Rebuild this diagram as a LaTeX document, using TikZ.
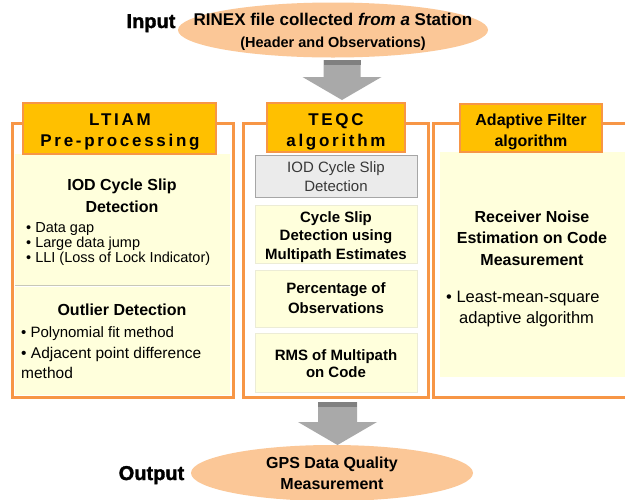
\documentclass[tikz,border=0pt]{standalone}
\usepackage{fontspec}
\setmainfont{Liberation Sans}
\newfontfamily\spacedfont[LetterSpace=16]{Liberation Sans}
\newfontfamily\heavyfont[FakeBold=1.6]{Liberation Sans Bold}
\usetikzlibrary{shapes.geometric,fit,calc}
\definecolor{orgline}{HTML}{F79646}
\definecolor{gold}{HTML}{FFC000}
\definecolor{paleyel}{HTML}{FFFFDC}
\definecolor{peach}{HTML}{FBC797}
\definecolor{graybox}{HTML}{EBEBEB}
\definecolor{grayedge}{HTML}{A6A6A6}
\definecolor{arrowgray}{HTML}{A9A9A9}
\definecolor{arrowdark}{HTML}{808080}
\definecolor{sepgray}{HTML}{C8C8B8}
\definecolor{subedge}{HTML}{ECECD6}
\definecolor{txtgray}{HTML}{383838}
\newcommand\fsz[2]{\fontsize{#1}{#2}\selectfont}
\newcommand\garrow[4]{%
  \fill[arrowgray] let \p1=(#1), \p2=(#2) in
    (\x1-#3,\y1) -- (\x1+#3,\y1) -- (\x1+#3,\y2+23pt) -- (\x1+#4,\y2+23pt)
    -- (\x1,\y2) -- (\x1-#4,\y2+23pt) -- (\x1-#3,\y2+23pt) -- cycle;
  \fill[arrowdark] let \p1=(#1) in (\x1-#3,\y1) rectangle (\x1+#3,\y1-5pt);
}
\begin{document}
\begin{tikzpicture}[x=1pt,y=-1pt,
  bx/.style={inner sep=0pt, outer sep=0pt},
  panel/.style={draw=orgline, line width=3pt, fill=white},
  titlebox/.style={draw=orgline, line width=1.5pt, fill=gold},
  subbx/.style={fill=paleyel, draw=subedge, line width=0.8pt},
  graybx/.style={fill=graybox, draw=grayedge, line width=0.8pt},
  lbl/.style={anchor=base, inner sep=0pt, text=black},
  lblw/.style={anchor=base west, inner sep=0pt, text=black},
  hd/.style={font=\bfseries\fsz{16}{19}},
  bd/.style={font=\bfseries\fsz{15}{18}},
  rg/.style={font=\fsz{15}{18}},
  sp/.style={font=\spacedfont\bfseries\fsz{17}{20}},
]
\useasboundingbox (0,0) rectangle (625,499);
\clip (0,0) rectangle (625,499);
\fill[white] (0,0) rectangle (625,499);

% panels
\node[bx, panel, fit={(12,123) (233,397)}] (lp) {};
\node[bx, panel, fit={(243,123) (428,397)}] (mp) {};
\node[bx, panel, fit={(433,123) (660,397)}] (rp) {};

% left panel sections
\node[bx, fill=paleyel, fit={(15,154) (230,285)}] (ls1) {};
\node[bx, fill=paleyel, fit={(15,287) (230,395)}] (ls2) {};
\draw[sepgray, line width=1pt] (ls1.south west) -- (ls1.south east);

% middle sub boxes
\node[bx, graybx, fit={(255,155) (417,197)}] (m1) {};
\node[bx, subbx, fit={(255,205) (417,263)}] (m2) {};
\node[bx, subbx, fit={(255,270) (417,327)}] (m3) {};
\node[bx, subbx, fit={(255,333) (417,392)}] (m4) {};

% right section
\node[bx, fill=paleyel, fit={(440,152) (660,377)}] (rs) {};

% title boxes
\node[bx, titlebox, fit={(23,103) (216,154)}] (lt) {};
\node[bx, titlebox, fit={(267,103) (405,152)}] (mt) {};
\node[bx, titlebox, fit={(460,104) (602,152)}] (rt) {};

% ellipses
\node[ellipse, fill=peach, minimum width=310, minimum height=55, inner sep=0pt] (in) at (333,30) {};
\node[ellipse, fill=peach, minimum width=282, minimum height=56, inner sep=0pt] (out) at (332,473) {};

% block arrows
\coordinate (a1s) at (342,60);
\coordinate (a1e) at (342,100);
\garrow{a1s}{a1e}{18.5pt}{39.5pt}
\coordinate (a2s) at (337.5,402);
\coordinate (a2e) at (337.5,445);
\garrow{a2s}{a2e}{19.5pt}{39.5pt}

% input / output
\node[lbl, font=\heavyfont\fsz{20}{24}] (inlbl) at (151,28) {Input};
\node[lbl, font=\heavyfont\fsz{20}{24}] (outlbl) at (151.5,480) {Output};
\node[lbl, font=\bfseries\fsz{17}{20}] (in1) at (333,25) {RINEX file collected \textit{from a} Station};
\node[lbl, font=\bfseries\fsz{14.5}{18}] (in2) at (333,47) {(Header and Observations)};
\node[lbl, hd] (out1) at (332,468) {GPS Data Quality};
\node[lbl, hd] (out2) at (332,489) {Measurement};

% titles
\node[lbl, sp] (lt1) at (120,125) {LTIAM};
\node[lbl, sp] (lt2) at (120,146) {Pre-processing};
\node[lbl, sp] (mt1) at (336,125) {TEQC};
\node[lbl, sp] (mt2) at (336,146) {algorithm};
\node[lbl, hd] (rt1) at (531,125) {Adaptive Filter};
\node[lbl, hd] (rt2) at (531,146) {algorithm};

% left panel text
\node[lbl, hd] (l1) at (122,190) {IOD Cycle Slip};
\node[lbl, hd] (l2) at (122,212) {Detection};
\node[lblw, font=\fsz{14.5}{16}] (l3) at (26,232) {\textbullet\ Data gap};
\node[lblw, font=\fsz{14.5}{16}] (l4) at (26,247) {\textbullet\ Large data jump};
\node[lblw, font=\fsz{14.5}{16}] (l5) at (26,262) {\textbullet\ LLI (Loss of Lock Indicator)};
\node[lbl, hd] (l6) at (122,315) {Outlier Detection};
\node[lblw, font=\fsz{15}{18}] (l7) at (21,337) {\textbullet\ Polynomial fit method};
\node[lblw, font=\fsz{15.5}{18}] (l8) at (21,358) {\textbullet\ Adjacent point difference};
\node[lblw, font=\fsz{15.5}{18}] (l9) at (21,378) {method};

% middle panel text
\node[lbl, rg, text=txtgray] (m1a) at (336,172) {IOD Cycle Slip};
\node[lbl, rg, text=txtgray] (m1b) at (336,191) {Detection};
\node[lbl, bd] (m2a) at (336,222) {Cycle Slip};
\node[lbl, bd] (m2b) at (336,240) {Detection using};
\node[lbl, bd] (m2c) at (336,259) {Multipath Estimates};
\node[lbl, bd] (m3a) at (336,293) {Percentage of};
\node[lbl, bd] (m3b) at (336,313) {Observations};
\node[lbl, bd] (m4a) at (336,360) {RMS of Multipath};
\node[lbl, bd] (m4b) at (336,377) {on Code};

% right panel text
\node[lbl, hd] (r1) at (532,222) {Receiver Noise};
\node[lbl, hd] (r2) at (532,243) {Estimation on Code};
\node[lbl, hd] (r3) at (532,265) {Measurement};
\node[lblw, font=\fsz{16.5}{19}] (r4) at (446,302) {\textbullet\ Least-mean-square};
\node[lblw, font=\fsz{16.5}{19}] (r5) at (459,323) {adaptive algorithm};
\end{tikzpicture}
\end{document}
